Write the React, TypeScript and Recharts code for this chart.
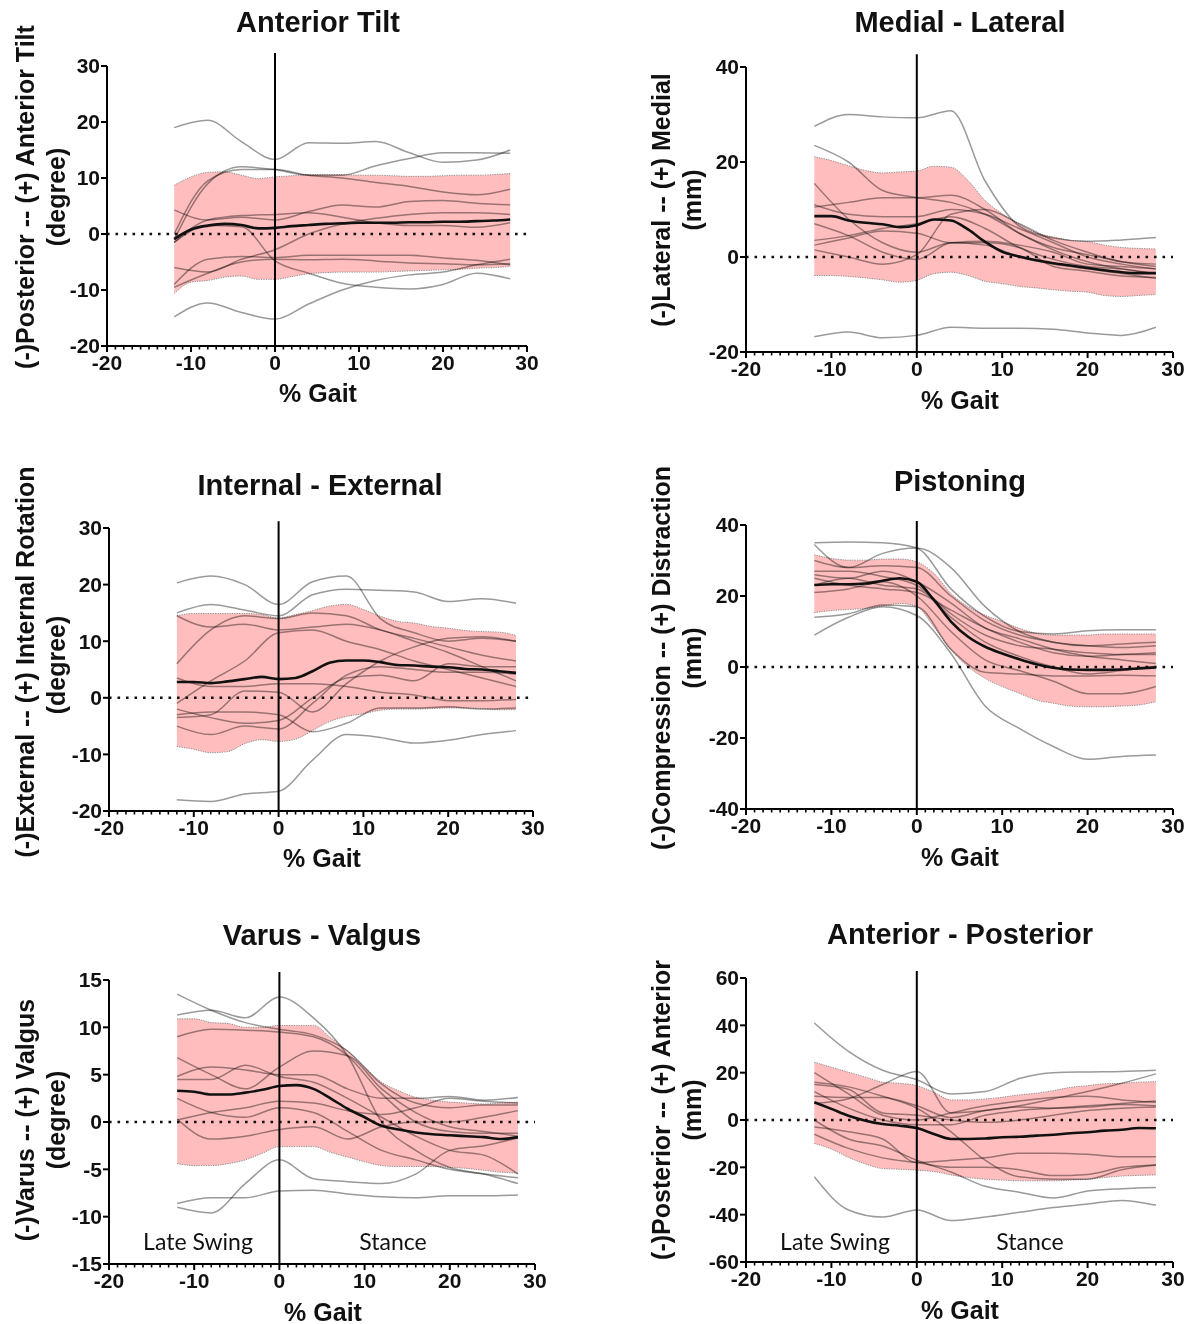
import React from "react";
import { ComposedChart, Line, Area, XAxis, YAxis, ReferenceLine } from "recharts";

// % gait sample points
const GAIT = [-12, -10, -8, -6, -4, -2, 0, 2, 4, 6, 8, 10, 12, 14, 16, 18, 20, 22, 24, 26, 28];
const GAIT_SUBJ = [-12, -8, -4, 0, 4, 8, 12, 16, 20, 24, 28];
const X_TICKS = Array.from({ length: 51 }, (_, i) => i - 20);

// Anterior tilt (degree)
const TILT_MEAN = [-0.9, 0.8, 1.5, 1.8, 1.6, 1.0, 1.1, 1.4, 1.6, 1.8, 1.9, 2.0, 2.0, 2.0, 2.1, 2.1, 2.2, 2.2, 2.3, 2.4, 2.6];
const TILT_UPPER = [8.7, 10.2, 11.0, 11.1, 10.5, 9.9, 10.2, 10.4, 10.6, 10.6, 10.6, 10.5, 10.5, 10.4, 10.3, 10.3, 10.4, 10.5, 10.5, 10.6, 10.8];
const TILT_LOWER = [-10.6, -8.6, -8.3, -7.7, -7.5, -8.1, -8.1, -7.6, -7.1, -6.9, -6.8, -6.8, -6.8, -6.7, -6.6, -6.5, -6.4, -6.3, -6.1, -6.0, -5.8];
const TILT_SUBJECTS = [
  [19, 20.3, 16.5, 13.3, 16.3, 16.2, 16.5, 14.5, 12.8, 13.2, 15],
  [-1, 9, 12, 11.5, 10.5, 10.5, 12.2, 13.5, 14.5, 14.5, 14.4],
  [0, 9.5, 11.5, 11.5, 10.5, 10, 9.2, 8.5, 7.5, 7, 8],
  [4.3, 2.5, 3, 2.5, 4, 5.2, 4.8, 5.8, 6, 5.5, 5.2],
  [-1.5, 2.5, 3.3, 3.5, 3.8, 3, 2, 1.5, 1.5, 1.2, 2],
  [-6, -6.8, -4.5, -2.8, 0, 1.8, 2.8, 3.5, 3.8, 3.8, 3.5],
  [-9, -4.5, -4, -4.2, -3.8, -3.8, -3.8, -3.8, -4.3, -4.7, -5.5],
  [-9.5, -7, -5, -4.5, -4.6, -4.5, -4.8, -5.2, -5.3, -5.5, -5.3],
  [-1.5, 1.5, 1.3, -4.8, -7, -8.8, -9.5, -9.8, -9, -7, -8],
  [-14.8, -12.3, -14, -15.2, -12.5, -10, -8.3, -7.3, -6.8, -5.5, -4.5],
];

// Medial - lateral (mm)
const ML_MEAN = [8.6, 8.6, 7.7, 7.2, 6.9, 6.3, 6.7, 7.9, 7.7, 5.8, 3.2, 1.1, 0.1, -0.7, -1.3, -1.8, -2.3, -2.8, -3.2, -3.4, -3.4];
const ML_UPPER = [21.1, 20.3, 19.2, 18.2, 17.7, 17.9, 18.1, 19.1, 18.9, 16.1, 11.9, 9.1, 6.9, 5.1, 4.2, 3.5, 3.2, 2.5, 2.0, 1.8, 1.7];
const ML_LOWER = [-3.9, -3.9, -4.1, -4.4, -4.8, -5.3, -4.9, -3.5, -3.2, -3.9, -5.1, -5.6, -6.2, -6.5, -6.9, -7.2, -7.4, -8.1, -8.3, -8.1, -7.9];
const ML_SUBJECTS = [
  [27.5, 30, 29.5, 29.3, 30.8, 16, 6.5, 4, 3.3, 3.6, 4.1],
  [-16.8, -15.8, -17, -16.5, -14.8, -15, -15, -15.2, -16, -16.5, -14.8],
  [23.5, 20, 14, 12.5, 11.5, 9, 5, 1.5, -1, -2.5, -3.5],
  [15.5, 8, 3, 1, 3, 2.5, 0, -1.5, -2.5, -3.5, -4.5],
  [10.5, 11.5, 12.5, 12.5, 13, 10, 5, 2, 0.5, -1, -2],
  [11, 9, 8.5, 8.5, 10, 9, 6, 3, 0, -1.5, -2.5],
  [7, 4.5, 1, -0.5, 3, 3.3, 2.5, 1, -1.5, -2, -2.5],
  [3.5, 4.5, 6, 7, 8.5, 6, 2, -0.5, -2, -2.5, -3.5],
  [1.5, 0, -1.5, 0.5, 9, 10, 7, 3.5, 1, -1, -1.5],
  [2.5, 4, 5.5, 5, 3, 3, 2, -2, -3, -4, -4.3],
];

// Internal - external rotation (degree)
const IE_MEAN = [2.8, 2.8, 2.6, 2.9, 3.3, 3.7, 3.3, 3.5, 4.7, 6.2, 6.6, 6.6, 6.3, 5.8, 5.7, 5.5, 5.4, 5.1, 5.0, 4.7, 4.4];
const IE_UPPER = [14.5, 14.9, 14.9, 14.9, 14.9, 14.7, 14.1, 14.7, 15.4, 16.2, 16.5, 15.6, 14.4, 13.5, 13.2, 12.6, 12.3, 11.9, 11.7, 11.6, 11.0];
const IE_LOWER = [-8.6, -9.1, -9.7, -9.5, -8.1, -7.4, -7.7, -7.3, -5.8, -4.2, -3.3, -2.8, -2.2, -2.0, -2.0, -1.9, -1.8, -1.8, -1.9, -2.1, -2.1];
const IE_SUBJECTS = [
  [20.3, 21.5, 20, 16.5, 20.5, 21.5, 14, 11.5, 10, 10.5, 10],
  [15, 16.5, 15.5, 14.5, 18.2, 19.2, 19, 18.7, 17, 17.5, 16.7],
  [6, 12, 14.5, 14, 15, 14.5, 12, 10.5, 9, 7.5, 6.5],
  [14.5, 12.5, 13, 12, 12.5, 13, 12, 10, 8, 5.5, 3],
  [-1, 3, 6.5, 11.5, 12, 10, 8.5, 6.5, 5, 3.5, 2],
  [3.5, 2, 2, 2.5, 2.5, 2, 1, 0.5, -0.5, -0.5, -0.3],
  [-3, -2.5, -2.5, -3, -6, -4.5, -1.8, -1.8, -1.6, -2, -1.8],
  [-5, -6.5, -5, -5.5, -1, 4, 5.5, 5, 4.5, 4.5, 4.2],
  [-3.5, -3, 1.2, 1, -2.5, 2.5, 6.5, 9, 10.5, 10.8, 10],
  [-18, -18.3, -17, -16.5, -11, -6.5, -7, -8, -7.5, -6.5, -5.8],
  [-2, -3.5, -4.5, -4, 0, 3.5, 4, 3, 6, 5.5, 5.5],
];

// Pistoning (mm)
const PIST_MEAN = [23.1, 23.3, 23.3, 23.5, 24.3, 25, 24, 18.9, 12.8, 8.5, 5.7, 3.8, 2.2, 0.8, -0.2, -0.7, -0.8, -0.8, -0.7, -0.4, -0.1];
const PIST_UPPER = [31.6, 30.6, 30.1, 30.1, 30.4, 30.4, 29.6, 26.4, 20.7, 17, 14.6, 12.8, 10.9, 9.5, 9.0, 9.0, 9.0, 9.3, 9.3, 9.3, 9.3];
const PIST_LOWER = [15.3, 15.9, 16.2, 16.5, 17.2, 17.9, 17, 11.3, 4.8, 0.1, -3.2, -5.5, -7.4, -9.3, -10.2, -11, -11.2, -11.2, -11, -10.7, -9.8];
const PIST_SUBJECTS = [
  [35, 35.2, 35, 33.5, 22, 14.2, 10, 9.3, 10.2, 10.5, 10.5],
  [9, 14, 17, 14.5, 3.8, -11, -17.3, -22.4, -26, -25.2, -24.8],
  [14, 15, 17.5, 17, 5, -1.5, -2, -2.5, -2.5, -2.3, -2.5],
  [34.5, 28, 32, 33.5, 28, 17, 10, 7, 6, 6.5, 7],
  [27, 27, 25.5, 23, 15, 9, 6, 5, 4, 3.5, 3.5],
  [25, 23, 22, 21, 16, 11, 7, 4, 3, 3.5, 4],
  [23, 25, 23, 22, 14, 7, 3, 0, -2, -1, 0],
  [21, 22, 24, 20, 10, 2, -1, -4, -7.5, -7.5, -5.5],
  [26, 25, 27, 24, 18, 11, 8, 5, 3, 2, 1],
  [30, 28, 28.5, 28, 20, 13, 9, 7, 6, 5.5, 6],
];

// Varus - valgus (degree)
const VV_MEAN = [3.3, 3.2, 2.9, 2.9, 3.1, 3.4, 3.8, 3.9, 3.5, 2.5, 1.4, 0.5, -0.4, -0.8, -1.1, -1.3, -1.4, -1.5, -1.6, -1.8, -1.6];
const VV_UPPER = [10.9, 10.9, 10.5, 10.4, 10.0, 10.0, 10.2, 10.2, 10.2, 8.9, 7.5, 5.8, 4.2, 3.3, 2.6, 2.3, 2.1, 2.0, 1.9, 2.0, 2.1];
const VV_LOWER = [-4.4, -4.6, -4.6, -4.4, -4.0, -3.3, -2.6, -2.6, -2.6, -3.2, -3.7, -4.2, -4.6, -4.7, -4.7, -4.7, -4.8, -4.9, -5.1, -5.3, -5.4];
const VV_SUBJECTS = [
  [13.5, 11.8, 10.5, 9.8, 9.2, 7.5, 4, 2, 1.5, 1.8, 1.8],
  [11.3, 11.8, 11, 13.2, 11, 7, 0, -3, -4.8, -5.5, -6.5],
  [9, 9.8, 9.7, 9.5, 9, 7, 3, 0, -1, -1.2, -1.2],
  [6.8, 5, 3.5, 5.8, 7.5, 7, 3.5, 1, -0.5, -1, -1.5],
  [4.8, 5.8, 5.5, 5, 5, 3.5, 2.5, 2.5, 2.7, 2.3, 2.6],
  [4.5, 4.5, 6, 4.8, 4.2, 2.5, 0.5, -1.5, -3, -3.5, -5.5],
  [0.2, 1, 1.5, 2.2, 2, 1.2, 0.8, 1.5, 2.5, 2.2, 2],
  [0.3, -1.8, -1.5, -0.8, -0.5, -1.8, -0.5, 0, 0, 0.5, 1.2],
  [-8.6, -8, -8, -7.3, -7.2, -7.6, -7.9, -8, -7.8, -7.8, -7.7],
  [-9, -9.6, -6.5, -4, -6, -6.3, -6.5, -5.5, -3, -2.5, -1.7],
  [2.5, 1, 0.5, 1.5, 1, -1, -3, -4, -5, -5.5, -5.9],
];

// Anterior - posterior (mm)
const AP_MEAN = [7.5, 4.7, 1.8, -0.3, -1.7, -2.4, -3.4, -5.9, -8, -8, -7.8, -7.3, -7.1, -6.6, -6.2, -5.6, -5.2, -4.5, -4.1, -3.4, -3.5];
const AP_UPPER = [24.4, 22.3, 20.2, 18.1, 16, 15.5, 14.5, 11.7, 8.5, 8.5, 8.9, 9.6, 10.6, 11.3, 12.4, 13.8, 14.5, 15.3, 15.5, 16, 16.2];
const AP_LOWER = [-9.9, -12.3, -15.8, -18.6, -20.5, -20.8, -21.2, -21.8, -23.2, -24.3, -25, -25.4, -25.7, -25.7, -25.7, -25.4, -25, -24.3, -23.7, -23.4, -23.2];
const AP_SUBJECTS = [
  [41, 29, 21, 17, 11, 12, 17.5, 20, 20.3, 20.5, 21],
  [-24, -38, -41, -38, -42.5, -41, -39, -37, -35.5, -34, -36],
  [20, 11, 2, 0, 3, 6, 8, 9.5, 10, 8.5, 7.5],
  [16, 14, 10, 5, -5, -17, -24, -25, -25, -21, -19],
  [7, 9, 15, 20.5, 3, 4, 6, 9, 12, 15.5, 19.5],
  [0, -8, -11, -17, -22, -28, -30.5, -33, -30, -29, -28.5],
  [-3, -5, -8, -18, -17, -16, -14, -14, -14.5, -15.5, -15.5],
  [10, 9.5, 9.5, 6, 1, 4, 5.5, 5, 5.5, 6.5, 6],
  [12, 5, 0, -2, -2, 2, 4, 5, 6, 7, 8],
  [-6, -12, -16, -18, -20, -20, -21, -23.5, -23, -20, -19],
  [15, 13, 3, 2, 0, -1, 0, 2, 4, 5, 5.5],
];

const FONT = "'Liberation Sans', Arial, sans-serif";
const PHASE_FONT = "Lato, 'Open Sans', sans-serif";
const ML = 80;
const MT = 20;
const MR = 20;
const MB = 40;

function XTick(props: any) {
  const { x, y, payload } = props;
  const major = payload.value % 10 === 0;
  return (
    <g>
      <line x1={x} x2={x} y1={y} y2={y + (major ? 6 : 3.5)} stroke="#000" strokeWidth={major ? 2 : 1.6} />
      {major && (
        <text x={x} y={y + 24} textAnchor="middle" fontFamily={FONT} fontWeight="bold" fontSize={21} fill="#111">
          {payload.value}
        </text>
      )}
    </g>
  );
}

interface PanelProps {
  left: number;
  top: number;
  right: number;
  bottom: number;
  yDomain: [number, number];
  yTicks: number[];
  lineTop: number;
  mean: number[];
  upper: number[];
  lower: number[];
  subjects: number[][];
}

function Panel({ left, top, right, bottom, yDomain, yTicks, lineTop, mean, upper, lower, subjects }: PanelProps) {
  const w = right - left + ML + MR;
  const h = bottom - top + MT + MB;
  const band = GAIT.map((x, i) => ({ x, mean: mean[i], band: [lower[i], upper[i]] }));
  return (
    <div style={{ position: "absolute", left: left - ML, top: top - MT, width: w, height: h }}>
      <ComposedChart width={w} height={h} margin={{ top: MT, right: MR, left: 0, bottom: 0 }} data={band}>
        <XAxis
          type="number"
          dataKey="x"
          domain={[-20, 30]}
          ticks={X_TICKS}
          interval={0}
          tick={<XTick />}
          tickLine={false}
          tickSize={0}
          tickMargin={0}
          axisLine={{ stroke: "#000", strokeWidth: 2 }}
          height={MB}
        />
        <YAxis
          type="number"
          domain={yDomain}
          ticks={yTicks}
          interval={0}
          width={ML}
          tickSize={6}
          tickMargin={1}
          tickLine={{ stroke: "#000", strokeWidth: 2 }}
          axisLine={{ stroke: "#000", strokeWidth: 2 }}
          tick={{ fontFamily: FONT, fontWeight: "bold", fontSize: 21, fill: "#111" }}
        />
        {subjects.map((s, k) => (
          <Line
            key={k}
            className="subj"
            data={GAIT_SUBJ.map((x, i) => ({ x, y: s[i] }))}
            dataKey="y"
            type="monotone"
            stroke="#9a9a9a"
            strokeWidth={1.5}
            dot={false}
            isAnimationActive={false}
          />
        ))}
        <Area
          dataKey="band"
          type="monotone"
          fill="#ff0000"
          fillOpacity={0.26}
          stroke="#8a8a8a"
          strokeWidth={1}
          strokeDasharray="1.2 1.2"
          isAnimationActive={false}
        />
        <Line dataKey="mean" type="monotone" stroke="#111" strokeWidth={2.6} dot={false} isAnimationActive={false} />
        <ReferenceLine y={0} stroke="#111" strokeWidth={2.6} strokeDasharray="2.6 5.9" />
        <ReferenceLine
          segment={[
            { x: 0, y: yDomain[0] },
            { x: 0, y: lineTop },
          ]}
          ifOverflow="visible"
          stroke="#000"
          strokeWidth={2}
        />
      </ComposedChart>
    </div>
  );
}

function Txt({ x, y, size, children, rotate = 0, bold = true, family = FONT }: any) {
  return (
    <div
      style={{
        position: "absolute",
        left: x,
        top: y,
        transform: `translate(-50%, -50%) rotate(${rotate}deg)`,
        fontFamily: family,
        fontWeight: bold ? "bold" : "normal",
        fontSize: size,
        color: "#111",
        whiteSpace: "nowrap",
        lineHeight: 1,
      }}
    >
      {children}
    </div>
  );
}

export default function App() {
  return (
    <div style={{ position: "absolute", left: 0, top: 0, width: 1191, height: 1324, background: "#fff", overflow: "hidden" }}>
      <style>{`.subj path { mix-blend-mode: multiply; }`}</style>

      <Panel left={107} top={66} right={527} bottom={346} yDomain={[-20, 30]} yTicks={[-20, -10, 0, 10, 20, 30]} lineTop={32.3}
        mean={TILT_MEAN} upper={TILT_UPPER} lower={TILT_LOWER} subjects={TILT_SUBJECTS} />
      <Panel left={746} top={67} right={1173} bottom={352} yDomain={[-20, 40]} yTicks={[-20, 0, 20, 40]} lineTop={42.7}
        mean={ML_MEAN} upper={ML_UPPER} lower={ML_LOWER} subjects={ML_SUBJECTS} />
      <Panel left={109} top={528} right={533} bottom={811} yDomain={[-20, 30]} yTicks={[-20, -10, 0, 10, 20, 30]} lineTop={31.2}
        mean={IE_MEAN} upper={IE_UPPER} lower={IE_LOWER} subjects={IE_SUBJECTS} />
      <Panel left={746} top={525} right={1173} bottom={809} yDomain={[-40, 40]} yTicks={[-40, -20, 0, 20, 40]} lineTop={41.1}
        mean={PIST_MEAN} upper={PIST_UPPER} lower={PIST_LOWER} subjects={PIST_SUBJECTS} />
      <Panel left={109} top={980} right={535} bottom={1264} yDomain={[-15, 15]} yTicks={[-15, -10, -5, 0, 5, 10, 15]} lineTop={15.85}
        mean={VV_MEAN} upper={VV_UPPER} lower={VV_LOWER} subjects={VV_SUBJECTS} />
      <Panel left={746} top={978} right={1173} bottom={1262} yDomain={[-60, 60]} yTicks={[-60, -40, -20, 0, 20, 40, 60]} lineTop={63}
        mean={AP_MEAN} upper={AP_UPPER} lower={AP_LOWER} subjects={AP_SUBJECTS} />

      <Txt x={318} y={22} size={29}>Anterior Tilt</Txt>
      <Txt x={960} y={22} size={29}>Medial - Lateral</Txt>
      <Txt x={320} y={485} size={29}>Internal - External</Txt>
      <Txt x={960} y={481} size={29}>Pistoning</Txt>
      <Txt x={322} y={935} size={29}>Varus - Valgus</Txt>
      <Txt x={960} y={934} size={29}>Anterior - Posterior</Txt>

      <Txt x={318} y={393} size={25}>% Gait</Txt>
      <Txt x={960} y={400} size={25}>% Gait</Txt>
      <Txt x={322} y={858} size={25}>% Gait</Txt>
      <Txt x={960} y={857} size={25}>% Gait</Txt>
      <Txt x={323} y={1312} size={25}>% Gait</Txt>
      <Txt x={960} y={1310} size={25}>% Gait</Txt>

      <Txt x={25} y={197} size={25} rotate={-90}>(-)Posterior -- (+) Anterior Tilt</Txt>
      <Txt x={56} y={197} size={25} rotate={-90}>(degree)</Txt>
      <Txt x={661} y={200} size={25} rotate={-90}>(-)Lateral -- (+) Medial</Txt>
      <Txt x={692} y={200} size={25} rotate={-90}>(mm)</Txt>
      <Txt x={25} y={662} size={25} rotate={-90}>(-)External -- (+) Internal Rotation</Txt>
      <Txt x={56} y={665} size={25} rotate={-90}>(degree)</Txt>
      <Txt x={661} y={658} size={25} rotate={-90}>(-)Compression -- (+) Distraction</Txt>
      <Txt x={692} y={658} size={25} rotate={-90}>(mm)</Txt>
      <Txt x={25} y={1120} size={25} rotate={-90}>(-)Varus -- (+) Valgus</Txt>
      <Txt x={56} y={1120} size={25} rotate={-90}>(degree)</Txt>
      <Txt x={661} y={1110} size={25} rotate={-90}>(-)Posterior -- (+) Anterior</Txt>
      <Txt x={692} y={1110} size={25} rotate={-90}>(mm)</Txt>

      <Txt x={198} y={1241} size={23} bold={false} family={PHASE_FONT}>Late Swing</Txt>
      <Txt x={393} y={1241} size={23} bold={false} family={PHASE_FONT}>Stance</Txt>
      <Txt x={835} y={1241} size={23} bold={false} family={PHASE_FONT}>Late Swing</Txt>
      <Txt x={1030} y={1241} size={23} bold={false} family={PHASE_FONT}>Stance</Txt>
    </div>
  );
}
